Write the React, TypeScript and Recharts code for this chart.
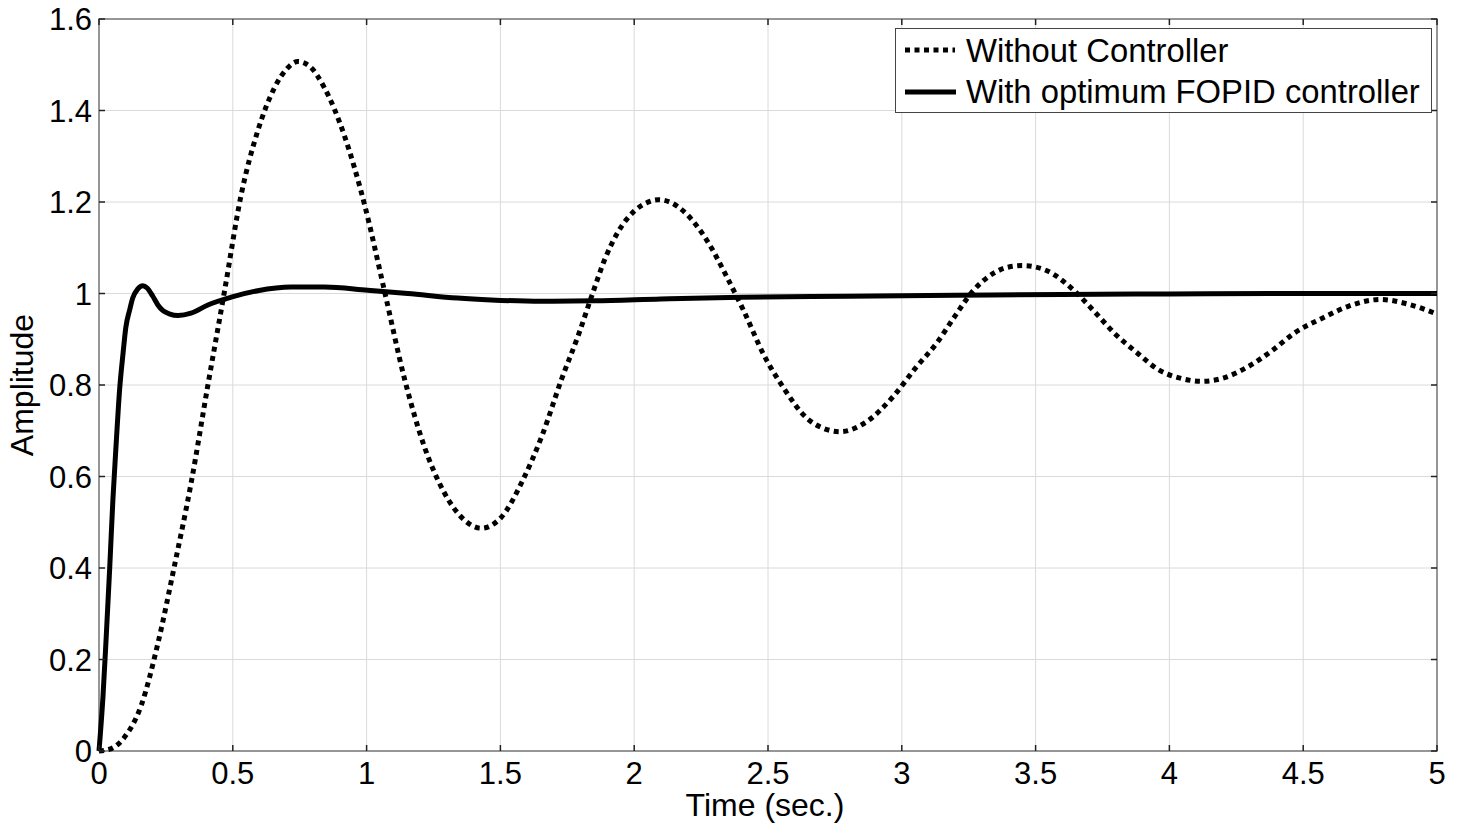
import React from 'react';
import { LineChart, Line, XAxis, YAxis, CartesianGrid, ReferenceArea } from 'recharts';

const timeNoCtrl = [
  0, 0.04, 0.095, 0.158, 0.22, 0.282, 0.344, 0.407, 0.469, 0.531, 0.593, 0.656, 0.7, 0.743, 0.79, 0.842,
  0.917, 0.992, 1.067, 1.141, 1.216, 1.29, 1.365, 1.428, 1.502, 1.582, 1.656, 1.73, 1.792, 1.842, 1.891,
  1.94, 2.0, 2.045, 2.089, 2.14, 2.188, 2.275, 2.349, 2.411, 2.485, 2.559, 2.646, 2.7, 2.77, 2.869, 2.968,
  3.051, 3.131, 3.198, 3.265, 3.345, 3.4, 3.452, 3.545, 3.639, 3.719, 3.8, 3.88, 3.96, 4.04, 4.12, 4.2,
  4.294, 4.388, 4.468, 4.575, 4.668, 4.789, 4.896, 5.0,
];
const ampNoCtrl = [
  0, 0.004, 0.03, 0.1, 0.235, 0.405, 0.585, 0.8, 1.005, 1.215, 1.355, 1.45, 1.49, 1.507, 1.495, 1.45,
  1.345, 1.195, 1.005, 0.815, 0.665, 0.565, 0.505, 0.487, 0.51, 0.59, 0.69, 0.815, 0.91, 0.996, 1.076,
  1.135, 1.18, 1.198, 1.205, 1.198, 1.178, 1.113, 1.033, 0.96, 0.865, 0.793, 0.727, 0.707, 0.698, 0.72, 0.775,
  0.837, 0.892, 0.95, 1.005, 1.045, 1.058, 1.061, 1.049, 1.009, 0.961, 0.91, 0.87, 0.833, 0.815, 0.808, 0.815,
  0.84, 0.877, 0.914, 0.947, 0.972, 0.987, 0.976, 0.955,
];

const timeFopid = [
  0, 0.015, 0.027, 0.04, 0.052, 0.065, 0.077, 0.09, 0.1, 0.115, 0.126, 0.145, 0.164, 0.18, 0.2, 0.22,
  0.238, 0.265, 0.295, 0.344, 0.407, 0.494, 0.593, 0.718, 0.842, 1.004, 1.154, 1.34, 1.465, 1.652, 1.85,
  2.1, 2.4, 2.8, 3.2, 3.6, 4.0, 4.5, 5.0,
];
const ampFopid = [
  0, 0.12, 0.25, 0.4, 0.55, 0.68, 0.79, 0.87, 0.925, 0.965, 0.99, 1.01, 1.017, 1.012, 0.995, 0.975,
  0.963, 0.955, 0.952, 0.957, 0.975, 0.992, 1.006, 1.014, 1.014, 1.007, 1.0, 0.99, 0.986, 0.983, 0.984,
  0.988, 0.992, 0.994, 0.996, 0.998, 0.999, 1.0, 1.0,
];

const xTicks = [0, 0.5, 1, 1.5, 2, 2.5, 3, 3.5, 4, 4.5, 5];
const yTicks = [0, 0.2, 0.4, 0.6, 0.8, 1, 1.2, 1.4, 1.6];
const legendNames = ['Without Controller', 'With optimum FOPID controller'];

const noCtrlData = timeNoCtrl.map((t, i) => ({ t, v: ampNoCtrl[i] }));
const fopidData = timeFopid.map((t, i) => ({ t, v: ampFopid[i] }));

const W = 1461;
const H = 826;
const MARGIN = { top: 19, right: 24, bottom: 0, left: 0 };
const Y_AXIS_W = 99;
const X_AXIS_H = 75;
const LEFT = MARGIN.left + Y_AXIS_W;
const RIGHT = W - MARGIN.right;
const TOP = MARGIN.top;
const BOTTOM = H - MARGIN.bottom - X_AXIS_H;

const FONT = '"Liberation Sans", Arial, sans-serif';
const TICK_LEN = 6;

const fmt = (v: number) => String(Math.round(v * 10) / 10);

function YTick({ y, payload }: any) {
  return (
    <g>
      <text x={LEFT - 7} y={y + 11} textAnchor="end" fontSize={31} fontFamily={FONT} fill="#000">
        {fmt(payload.value)}
      </text>
      <line x1={LEFT} x2={LEFT + TICK_LEN} y1={y} y2={y} stroke="#222" strokeWidth={1.5} />
      <line x1={RIGHT - TICK_LEN} x2={RIGHT} y1={y} y2={y} stroke="#222" strokeWidth={1.5} />
    </g>
  );
}

function XTick({ x, payload }: any) {
  return (
    <g>
      <text x={x} y={BOTTOM + 33} textAnchor="middle" fontSize={31} fontFamily={FONT} fill="#000">
        {fmt(payload.value)}
      </text>
      <line x1={x} x2={x} y1={BOTTOM - TICK_LEN} y2={BOTTOM} stroke="#222" strokeWidth={1.5} />
      <line x1={x} x2={x} y1={TOP} y2={TOP + TICK_LEN} stroke="#222" strokeWidth={1.5} />
    </g>
  );
}

function LegendBox() {
  return (
    <svg
      width={537}
      height={85}
      style={{ position: 'absolute', left: 895, top: 28, display: 'block', overflow: 'visible' }}
    >
      <rect x={0.5} y={0.5} width={536} height={84} fill="#fff" stroke="#444" strokeWidth={1} />
      <line x1={10} x2={60} y1={22} y2={22} stroke="#000" strokeWidth={5} strokeDasharray="5 4.5" />
      <text x={71} y={34} fontSize={32.8} fontFamily={FONT} fill="#000">{legendNames[0]}</text>
      <line x1={10} x2={61} y1={64} y2={64} stroke="#000" strokeWidth={5} />
      <text x={71} y={75} fontSize={32.8} fontFamily={FONT} fill="#000">{legendNames[1]}</text>
    </svg>
  );
}

export default function App() {
  return (
    <div style={{ position: 'absolute', left: 0, top: 0, width: W, height: H, background: '#fff' }}>
      <LineChart width={W} height={H} margin={MARGIN}>
        <CartesianGrid stroke="#dadada" strokeWidth={1} />
        <XAxis
          dataKey="t"
          type="number"
          domain={[0, 5]}
          ticks={xTicks}
          height={X_AXIS_H}
          axisLine={false}
          tickLine={false}
          tick={<XTick />}
          interval={0}
          label={{
            content: ({ viewBox }: any) => (
              <text
                x={viewBox.x + viewBox.width / 2 - 3}
                y={viewBox.y + 65}
                textAnchor="middle"
                fontSize={32}
                fontFamily={FONT}
                fill="#000"
              >
                Time (sec.)
              </text>
            ),
          }}
        />
        <YAxis
          type="number"
          domain={[0, 1.6]}
          ticks={yTicks}
          width={Y_AXIS_W}
          axisLine={false}
          tickLine={false}
          tick={<YTick />}
          interval={0}
          label={{
            content: ({ viewBox }: any) => {
              const cx = viewBox.x + 33;
              const cy = viewBox.y + viewBox.height / 2;
              return (
                <text
                  x={cx}
                  y={cy}
                  transform={`rotate(-90 ${cx} ${cy})`}
                  textAnchor="middle"
                  fontSize={32}
                  fontFamily={FONT}
                  fill="#000"
                >
                  Amplitude
                </text>
              );
            },
          }}
        />
        <ReferenceArea x1={0} x2={5} y1={0} y2={1.6} fill="none" stroke="#7a7a7a" strokeWidth={1.5} ifOverflow="visible" />
        <Line
          data={noCtrlData}
          dataKey="v"
          type="monotone"
          stroke="#000"
          strokeWidth={5}
          strokeDasharray="5 4.5"
          dot={false}
          activeDot={false}
          isAnimationActive={false}
        />
        <Line
          data={fopidData}
          dataKey="v"
          type="monotone"
          stroke="#000"
          strokeWidth={5}
          dot={false}
          activeDot={false}
          isAnimationActive={false}
        />
      </LineChart>
      <LegendBox />
    </div>
  );
}
